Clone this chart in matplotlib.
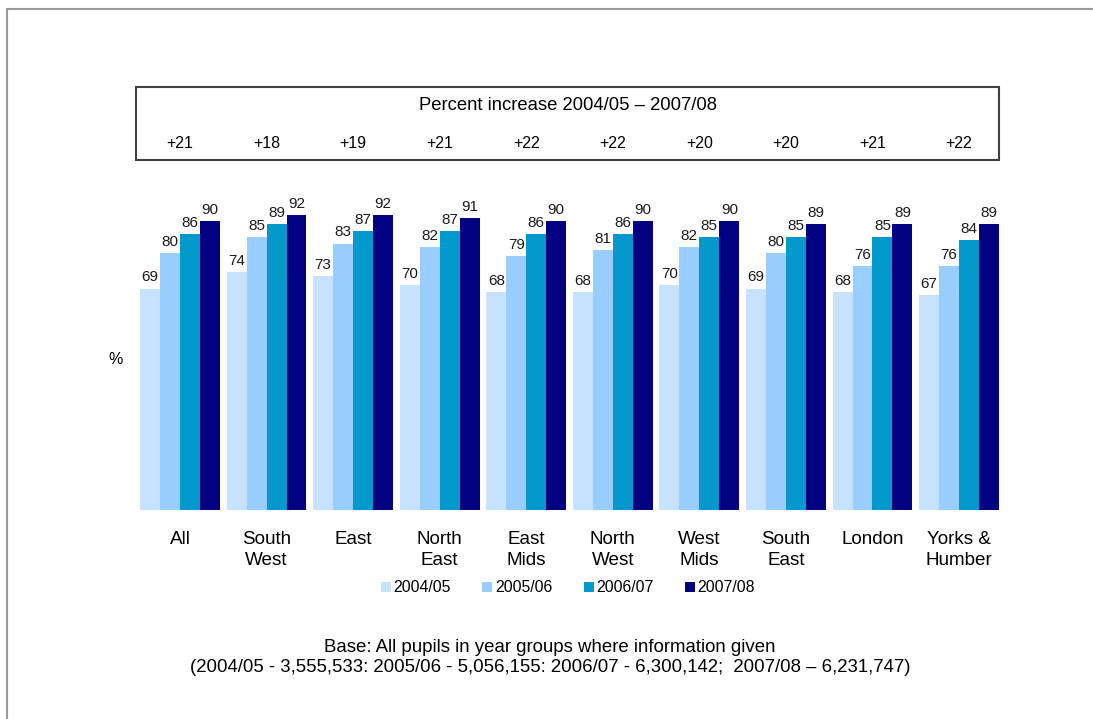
import numpy as np
import matplotlib
matplotlib.use('Agg')
import matplotlib.pyplot as plt
from matplotlib.patches import Rectangle
from matplotlib.transforms import blended_transform_factory

plt.rcParams['font.family'] = ['Liberation Sans', 'DejaVu Sans']

# Datos
regiones = ['All', 'South\nWest', 'East', 'North\nEast', 'East\nMids', 'North\nWest',
            'West\nMids', 'South\nEast', 'London', 'Yorks &\nHumber']
anios = ['2004/05', '2005/06', '2006/07', '2007/08']
v0405 = [69, 74, 73, 70, 68, 68, 70, 69, 68, 67]
v0506 = [80, 85, 83, 82, 79, 81, 82, 80, 76, 76]
v0607 = [86, 89, 87, 87, 86, 86, 85, 85, 85, 84]
v0708 = [90, 92, 92, 91, 90, 90, 90, 89, 89, 89]
incremento = [21, 18, 19, 21, 22, 22, 20, 20, 21, 22]
colores = ['#C6E2FF', '#99CCFF', '#0399CC', '#000080']

W, H = 1093, 719
fig = plt.figure(figsize=(W / 100, H / 100), dpi=100)

# Marco gris exterior (solo se ven izquierda y arriba)
fig.patches.append(Rectangle((7 / W, -0.1), 1.2, (H - 9) / H + 0.1, transform=fig.transFigure,
                             fill=False, edgecolor='#999999', linewidth=1.5))

ax = fig.add_axes([136 / W, 209 / H, 864 / W, 321 / H])
x = np.arange(len(regiones))
w = 0.2308
series = [v0405, v0506, v0607, v0708]
for k, (vals, col, lab) in enumerate(zip(series, colores, anios)):
    pos = x + (k - 1.5) * w
    ax.bar(pos, vals, width=w, color=col, label=lab, linewidth=0)
    for p, v in zip(pos, vals):
        ax.annotate(str(v), (p, v), xytext=(0, 3), textcoords='offset points',
                    ha='center', va='bottom', fontsize=11, color='#1a1a1a')

ax.set_ylim(0, 100)
ax.set_xlim(-0.508, 9.473)
ax.set_xticks(x)
ax.set_xticklabels(regiones, fontsize=13.6, linespacing=1.35)
ax.tick_params(axis='x', length=0, pad=15)
ax.set_yticks([])
for s in ax.spines.values():
    s.set_visible(False)

# Recuadro superior con incrementos
fig.patches.append(Rectangle((136 / W, (H - 160) / H), 863 / W, 73 / H, transform=fig.transFigure,
                             fill=False, edgecolor='#404040', linewidth=1.5))
fig.text(568 / W, (H - 105) / H, 'Percent increase 2004/05 \u2013 2007/08', ha='center', va='center',
         fontsize=13.3)
trans = blended_transform_factory(ax.transData, fig.transFigure)
for xi, inc in zip(x, incremento):
    ax.text(xi, (H - 143) / H, '+%d' % inc, transform=trans, ha='center', va='center',
            fontsize=11.5, clip_on=False)

fig.text(116 / W, (H - 360) / H, '%', ha='center', va='center', fontsize=11.5)

leg = fig.legend(loc='center', bbox_to_anchor=(568 / W, (H - 588) / H), ncol=4, frameon=False,
                 fontsize=11.4, handlelength=0.63, handleheight=0.63, handletextpad=0.15,
                 columnspacing=2.0, borderpad=0)

fig.text(550 / W, (H - 647) / H, 'Base: All pupils in year groups where information given',
         ha='center', va='center', fontsize=13.4)
fig.text(550 / W, (H - 667) / H,
         '(2004/05 - 3,555,533: 2005/06 - 5,056,155: 2006/07 - 6,300,142;  2007/08 \u2013 6,231,747)',
         ha='center', va='center', fontsize=13.4)

fig.savefig('out.png', dpi=100)
